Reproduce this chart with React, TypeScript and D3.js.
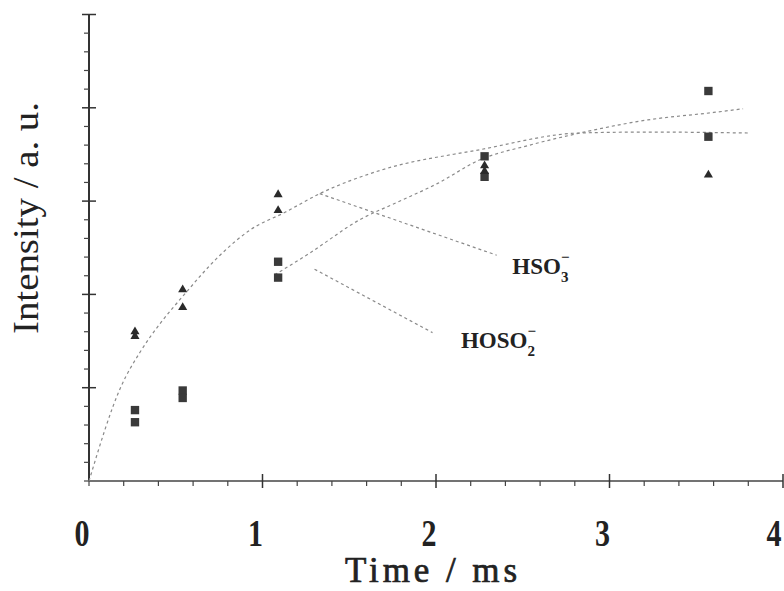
import React from "react";
import * as d3 from "d3";

// measured points (time in ms, intensity in a.u.)
const triTimes = [0.265, 0.265, 0.54, 0.54, 1.09, 1.09, 2.28, 2.28, 3.57];
const triValues = [1.6, 1.55, 2.05, 1.86, 3.07, 2.9, 3.38, 3.32, 3.28];
const sqTimes = [0.265, 0.265, 0.54, 0.54, 1.09, 1.09, 2.28, 2.28, 3.57, 3.57];
const sqValues = [0.76, 0.63, 0.97, 0.89, 2.35, 2.18, 3.48, 3.26, 4.18, 3.69];

// fitted curves
const fitATimes = [0, 0.184, 0.294, 0.415, 0.536, 0.755, 0.928, 1.13, 1.33, 1.68, 2.25, 2.83, 3.22, 3.8];
const fitAValues = [0, 1.01, 1.38, 1.7, 1.97, 2.42, 2.69, 2.88, 3.08, 3.33, 3.55, 3.73, 3.74, 3.73];
const fitBTimes = [1.07, 1.27, 1.56, 1.78, 2.01, 2.25, 2.54, 2.83, 3.22, 3.6, 3.77];
const fitBValues = [2.21, 2.44, 2.8, 2.99, 3.19, 3.44, 3.6, 3.73, 3.87, 3.95, 3.99];

// label leader lines [x0, y0, x1, y1]
const leaderHSO3 = [1.33, 3.08, 2.35, 2.42];
const leaderHOSO2 = [1.3, 2.27, 1.98, 1.59];

const xTicks = [0, 1, 2, 3, 4];

const W = 784;
const H = 591;

const App = () => {
  const x = d3.scaleLinear().domain([0, 4]).range([89, 783]);
  const y = d3.scaleLinear().domain([0, 5]).range([481, 14.5]);

  const minorX = d3.range(0, 4.0001, 0.2);
  const minorY = d3.range(0, 5.0001, 0.2);

  const line = d3
    .line<[number, number]>()
    .x((d) => x(d[0]))
    .y((d) => y(d[1]))
    .curve(d3.curveMonotoneX);

  const fitA = fitATimes.map((t, i) => [t, fitAValues[i]] as [number, number]);
  const fitB = fitBTimes.map((t, i) => [t, fitBValues[i]] as [number, number]);

  const tri = d3.symbol(d3.symbolTriangle, 36)();
  const sq = d3.symbol(d3.symbolSquare, 70)();

  const isMajor = (v: number) => Math.abs(v - Math.round(v)) < 1e-6;
  const dashed = { stroke: "#8a8a8a", strokeWidth: 1.2, strokeDasharray: "3,3", fill: "none" };

  return (
    <svg
      width={W}
      height={H}
      style={{ position: "absolute", left: 0, top: 0, background: "#fff" }}
    >
      {/* axes */}
      <line x1={x(0)} x2={x(0)} y1={y(0)} y2={y(5)} stroke="#333" strokeWidth={2} />
      <line x1={x(0)} x2={x(4)} y1={y(0)} y2={y(0)} stroke="#444" strokeWidth={1.4} />
      {minorY.map((v, i) =>
        isMajor(v) && v > 0 ? (
          <line key={"yt" + i} x1={x(0) - 7} x2={x(0) + 7} y1={y(v)} y2={y(v)} stroke="#333" strokeWidth={1.5} />
        ) : (
          <line key={"yt" + i} x1={x(0) - 5} x2={x(0)} y1={y(v)} y2={y(v)} stroke="#444" strokeWidth={1.2} />
        )
      )}
      {minorX.map((v, i) =>
        isMajor(v) && v > 0 ? (
          <line key={"xt" + i} x1={x(v)} x2={x(v)} y1={y(0) - 7} y2={y(0) + 7} stroke="#333" strokeWidth={1.5} />
        ) : (
          <line key={"xt" + i} x1={x(v)} x2={x(v)} y1={y(0)} y2={y(0) + 5} stroke="#444" strokeWidth={1.2} />
        )
      )}

      {/* tick labels */}
      {xTicks.map((t) => (
        <text
          key={"xl" + t}
          x={Math.min(x(t) - 7, W - 10)}
          y={546}
          textAnchor="middle"
          textLength={15}
          lengthAdjust="spacingAndGlyphs"
          fontFamily="Liberation Serif"
          fontWeight="bold"
          fontSize={37}
          fill="#222"
        >
          {t}
        </text>
      ))}

      {/* axis titles */}
      <text
        x={x(2) - 5}
        y={582}
        textAnchor="middle"
        textLength={172}
        lengthAdjust="spacing"
        fontFamily="Liberation Serif"
        fontSize={35}
        fill="#222"
        stroke="#222"
        strokeWidth={0.7}
      >
        Time /  ms
      </text>
      <text
        transform="translate(38,218) rotate(-90)"
        textAnchor="middle"
        textLength={232}
        lengthAdjust="spacingAndGlyphs"
        fontFamily="Liberation Serif"
        fontSize={36}
        fill="#222"
      >
        Intensity / a. u.
      </text>

      {/* fits and leaders */}
      <path d={line(fitA) || ""} {...dashed} />
      <path d={line(fitB) || ""} {...dashed} />
      <line x1={x(leaderHSO3[0])} y1={y(leaderHSO3[1])} x2={x(leaderHSO3[2])} y2={y(leaderHSO3[3])} {...dashed} />
      <line x1={x(leaderHOSO2[0])} y1={y(leaderHOSO2[1])} x2={x(leaderHOSO2[2])} y2={y(leaderHOSO2[3])} {...dashed} />

      {/* data */}
      {sqTimes.map((t, i) => (
        <path key={"s" + i} d={sq || ""} transform={`translate(${x(t)},${y(sqValues[i])})`} fill="#3a3a3a" />
      ))}
      {triTimes.map((t, i) => (
        <path key={"t" + i} d={tri || ""} transform={`translate(${x(t)},${y(triValues[i])})`} fill="#2a2a2a" />
      ))}

      {/* species labels */}
      <text x={x(2.44)} y={y(2.22)} fontFamily="Liberation Serif" fontWeight="bold" fontSize={23} fill="#222">
        HSO
        <tspan dy={8} fontSize={15}>3</tspan>
        <tspan dx={-7.5} dy={-20} fontSize={15}>−</tspan>
      </text>
      <text x={x(2.144)} y={y(1.425)} fontFamily="Liberation Serif" fontWeight="bold" fontSize={23} fill="#222">
        HOSO
        <tspan dy={8} fontSize={15}>2</tspan>
        <tspan dx={-7.5} dy={-20} fontSize={15}>−</tspan>
      </text>
    </svg>
  );
};

export default App;
